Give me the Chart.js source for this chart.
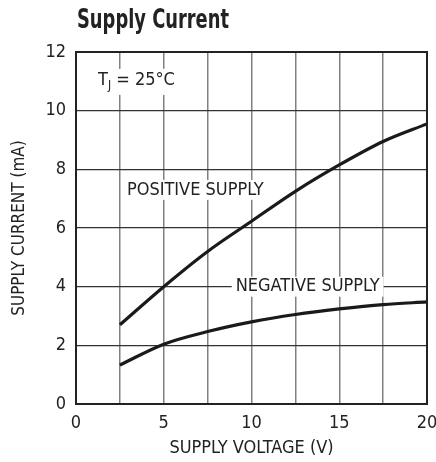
<!DOCTYPE html>
<html>
<head>
<meta charset="utf-8">
<script src="https://cdn.jsdelivr.net/npm/chart.js@4/dist/chart.umd.min.js"></script>
<style>
	html, body { margin: 0; padding: 0; background: #fff; }
	#wrap { width: 436px; height: 462px; }
</style>
</head>
<body>
<div id="wrap"><canvas id="supplyCurrent"></canvas></div>
<script>
const FONT = '"Liberation Sans Narrow", "DejaVu Sans Condensed", "Liberation Sans", sans-serif'

// supply voltage (V)
const voltage = [2.5, 5, 7.5, 10, 12.5, 15, 17.5, 20]
// supply current (mA)
const positiveSupply = [2.7, 4.0, 5.2, 6.23, 7.25, 8.15, 8.95, 9.55]
const negativeSupply = [1.33, 2.04, 2.47, 2.8, 3.05, 3.24, 3.39, 3.48]

const xGrid = [0, 2.5, 5, 7.5, 10, 12.5, 15, 17.5, 20]
const xTicks = [0, 5, 10, 15, 20]
const yTicks = [0, 2, 4, 6, 8, 10, 12]

const toPoints = (xs, ys) => xs.map((x, i) => ({ x: x, y: ys[i] }))

// title, frame and in-plot labels
const decorations = {
	id: 'decorations',
	afterDatasetsDraw(chart) {
		const { ctx, chartArea, scales } = chart
		const x = scales.x
		const y = scales.y

		const label = (text, px, py) => {
			ctx.save()
			ctx.font = '18px ' + FONT
			ctx.textBaseline = 'middle'
			ctx.textAlign = 'left'
			let w = ctx.measureText(text).width
			ctx.fillStyle = '#fff'
			ctx.fillRect(px - 4, py - 10, w + 8, 20)
			ctx.fillStyle = '#222'
			ctx.fillText(text, px, py)
			ctx.restore()
		}

		// T_J = 25°C
		ctx.save()
		ctx.font = '18px ' + FONT
		ctx.textBaseline = 'middle'
		const tW = ctx.measureText('T').width
		ctx.font = '12px ' + FONT
		const jW = ctx.measureText('J').width
		ctx.font = '18px ' + FONT
		const rest = ' = 25°C'
		const rW = ctx.measureText(rest).width
		const tx = 98
		const ty = y.getPixelForValue(11.05)
		ctx.fillStyle = '#fff'
		ctx.fillRect(tx - 4, ty - 11, tW + jW + rW + 8, 26)
		ctx.fillStyle = '#222'
		ctx.fillText('T', tx, ty)
		ctx.font = '12px ' + FONT
		ctx.fillText('J', tx + tW, ty + 6)
		ctx.font = '18px ' + FONT
		ctx.fillText(rest, tx + tW + jW, ty)
		ctx.restore()

		label('POSITIVE SUPPLY', x.getPixelForValue(2.9), y.getPixelForValue(7.3))
		label('NEGATIVE SUPPLY', x.getPixelForValue(9.1), y.getPixelForValue(4))

		// plot frame
		ctx.save()
		ctx.strokeStyle = '#222'
		ctx.lineWidth = 2
		ctx.strokeRect(chartArea.left, chartArea.top, chartArea.right - chartArea.left, chartArea.bottom - chartArea.top)
		ctx.restore()

		// chart title, squeezed to look like a condensed bold face
		ctx.save()
		ctx.font = 'bold 27px ' + FONT
		ctx.fillStyle = '#222'
		ctx.textBaseline = 'middle'
		ctx.translate(77, 21)
		ctx.scale(152 / ctx.measureText('Supply Current').width, 1)
		ctx.fillText('Supply Current', 0, 0)
		ctx.restore()
	}
}

const context = document.getElementById('supplyCurrent').getContext('2d')

const chart = new Chart(context, {
	type: 'line',
	data: {
		datasets: [
			{
				label: 'POSITIVE SUPPLY',
				data: toPoints(voltage, positiveSupply),
				borderColor: '#1a1a1a',
				borderWidth: 3.2,
				pointRadius: 0,
				cubicInterpolationMode: 'monotone'
			},
			{
				label: 'NEGATIVE SUPPLY',
				data: toPoints(voltage, negativeSupply),
				borderColor: '#1a1a1a',
				borderWidth: 3.2,
				pointRadius: 0,
				cubicInterpolationMode: 'monotone'
			}
		]
	},
	options: {
		responsive: true,
		maintainAspectRatio: false,
		animation: false,
		layout: {
			padding: { left: 0, top: 52, right: 9, bottom: 0 }
		},
		plugins: {
			legend: { display: false },
			tooltip: { enabled: false },
			title: { display: false }
		},
		scales: {
			x: {
				type: 'linear',
				min: 0,
				max: 20,
				afterBuildTicks: scale => {
					scale.ticks = xGrid.map(v => ({ value: v }))
				},
				afterFit: scale => {
					scale.height = 58
					scale.paddingLeft = 0
					scale.paddingRight = 0
				},
				ticks: {
					maxRotation: 0,
					autoSkip: false,
					padding: 9,
					color: '#222',
					font: { family: FONT, size: 18 },
					callback: v => (xTicks.includes(v) ? v : '')
				},
				grid: { color: '#808080', lineWidth: 1.5, drawTicks: false },
				border: { display: false },
				title: {
					display: true,
					text: 'SUPPLY VOLTAGE (V)',
					color: '#222',
					font: { family: FONT, size: 18 },
					padding: { top: 0, bottom: 3 }
				}
			},
			y: {
				min: 0,
				max: 12,
				afterBuildTicks: scale => {
					scale.ticks = yTicks.map(v => ({ value: v }))
				},
				afterFit: scale => { scale.width = 76 },
				ticks: {
					padding: 10,
					color: '#222',
					font: { family: FONT, size: 18 }
				},
				grid: { color: '#333', lineWidth: 1.2, drawTicks: false },
				border: { display: false },
				title: {
					display: true,
					text: 'SUPPLY CURRENT (mA)',
					color: '#222',
					font: { family: FONT, size: 17 },
					padding: { top: 9, bottom: 0 }
				}
			}
		}
	},
	plugins: [decorations]
})
</script>
</body>
</html>
